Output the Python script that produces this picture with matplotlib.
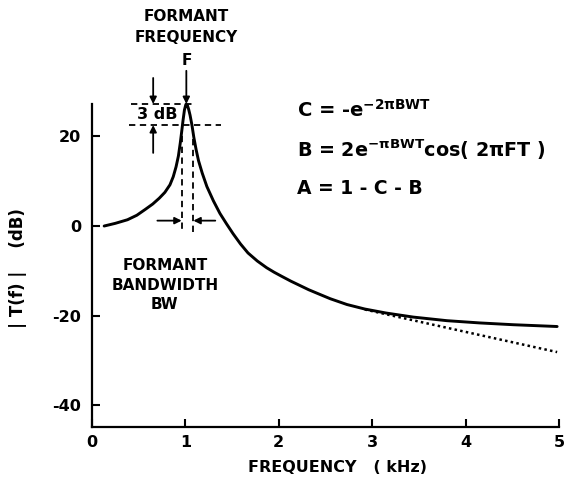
import matplotlib
matplotlib.use("Agg")
import matplotlib.pyplot as plt

plt.rcParams['font.family'] = ['DejaVu Sans']
plt.rcParams['font.weight'] = 'bold'
plt.rcParams['mathtext.fontset'] = 'custom'
plt.rcParams['mathtext.rm'] = 'DejaVu Sans:bold'
plt.rcParams['mathtext.it'] = 'DejaVu Sans:bold'
plt.rcParams['mathtext.bf'] = 'DejaVu Sans:bold'

# Data
freq_resp = [0.13, 0.25, 0.38, 0.48, 0.57, 0.65, 0.72, 0.78, 0.835, 0.87, 0.90,
             0.925, 0.945, 0.96, 0.975, 0.99, 1.005, 1.02, 1.035, 1.05, 1.07,
             1.09, 1.115, 1.14, 1.18, 1.23, 1.30, 1.37, 1.44, 1.51, 1.59, 1.67,
             1.77, 1.87, 1.95, 2.03, 2.13, 2.23, 2.32, 2.40, 2.55, 2.73, 2.92,
             3.15, 3.44, 3.80, 4.15, 4.51, 4.98]
db_resp = [0.0, 0.6, 1.4, 2.4, 3.7, 4.9, 6.2, 7.5, 9.2, 11.0, 13.2,
           15.6, 18.5, 21.0, 23.6, 25.9, 27.1, 27.0, 26.0, 24.7, 22.5,
           19.8, 17.0, 14.6, 11.8, 8.8, 5.6, 2.8, 0.5, -1.7, -4.0, -6.0,
           -7.8, -9.3, -10.3, -11.2, -12.3, -13.3, -14.2, -14.9, -16.2, -17.5, -18.5,
           -19.4, -20.3, -21.1, -21.6, -22.0, -22.4]
freq_asym = [2.92, 3.5, 4.0, 4.5, 4.98]
db_asym = [-18.6, -21.3, -23.6, -25.9, -28.1]

x_ticks = [0, 1, 2, 3, 4, 5]
y_ticks = [20, 0, -20, -40]

peak_f, peak_db = 1.01, 27.2
low3_db = 22.5
bw_lo, bw_hi = 0.96, 1.085

fig = plt.figure(figsize=(5.66, 4.82), dpi=100)
ax = fig.add_axes([92/566, 55/482, 467/566, 323/482])
ax.set_xlim(0, 5)
ax.set_ylim(-44.8, 27.2)

for s in ['top', 'right']:
    ax.spines[s].set_visible(False)
for s in ['left', 'bottom']:
    ax.spines[s].set_linewidth(1.6)

ax.set_xticks(x_ticks)
ax.set_xticklabels([str(v) for v in x_ticks])
ax.set_yticks(y_ticks)
ax.set_yticklabels([str(v) for v in y_ticks])
ax.tick_params(direction='in', length=6, width=1.5, labelsize=11.5, pad=6)
ax.tick_params(axis='y', pad=8)
for lab in ax.get_xticklabels() + ax.get_yticklabels():
    lab.set_fontweight('bold')

ax.plot(freq_resp, db_resp, color='black', lw=2.1, solid_joinstyle='round',
        solid_capstyle='round', clip_on=False)
ax.plot(freq_asym, db_asym, color='black', lw=1.8, linestyle=(0, (1, 1.3)),
        clip_on=False)

dash = (0, (3.5, 2.5))
# 3 dB dashed lines
ax.plot([0.42, 1.1], [peak_db, peak_db], color='black', lw=1.3, linestyle=dash, clip_on=False)
ax.plot([0.40, 1.38], [low3_db, low3_db], color='black', lw=1.3, linestyle=dash, clip_on=False)
# bandwidth verticals
ax.plot([bw_lo, bw_lo], [low3_db, -1.5], color='black', lw=1.3, linestyle=dash)
ax.plot([bw_hi, bw_hi], [19.5, -1.5], color='black', lw=1.3, linestyle=dash)

arrow = dict(arrowstyle='-|>', color='black', lw=1.3, mutation_scale=10, shrinkA=0, shrinkB=0)
# 3 dB arrows
ax.annotate('', xy=(0.655, peak_db), xytext=(0.655, 33), arrowprops=arrow, annotation_clip=False)
ax.annotate('', xy=(0.655, low3_db), xytext=(0.655, 16.3), arrowprops=arrow, annotation_clip=False)
ax.text(0.70, 24.9, '3 dB', ha='center', va='center', fontsize=11.5, fontweight='bold')
# formant frequency arrow
ax.annotate('', xy=(peak_f, peak_db), xytext=(peak_f, 34.6), arrowprops=arrow, annotation_clip=False)
ax.text(peak_f, 37.0, 'F', ha='center', va='center', fontsize=11, fontweight='bold')
ax.text(peak_f, 42.1, 'FREQUENCY', ha='center', va='center', fontsize=11, fontweight='bold')
ax.text(peak_f, 46.6, 'FORMANT', ha='center', va='center', fontsize=11, fontweight='bold')
# bandwidth arrows
ax.annotate('', xy=(bw_lo, 1.2), xytext=(0.70, 1.2), arrowprops=arrow)
ax.annotate('', xy=(bw_hi, 1.2), xytext=(1.32, 1.2), arrowprops=arrow)
ax.text(0.78, -8.7, 'FORMANT', ha='center', va='center', fontsize=11, fontweight='bold')
ax.text(0.78, -13.2, 'BANDWIDTH', ha='center', va='center', fontsize=11, fontweight='bold')
ax.text(0.78, -17.6, 'BW', ha='center', va='center', fontsize=11, fontweight='bold')

# equations
ax.text(2.2, 25.9, r'C = -e$^{-2\pi BWT}$', ha='left', va='center', fontsize=14)
ax.text(2.2, 17.0, r'B = 2e$^{-\pi BWT}$cos( 2$\pi$FT )', ha='left', va='center', fontsize=13.8)
ax.text(2.2, 8.4, 'A = 1 - C - B', ha='left', va='center', fontsize=13.5)

fig.text(18/566, 1 - 268/482, '| T(f) |    (dB)', rotation=90, ha='center', va='center',
         fontsize=12, fontweight='bold')
fig.text(337/566, 1 - 468/482, 'FREQUENCY   ( kHz)', ha='center', va='center',
         fontsize=11.5, fontweight='bold')

fig.savefig('out.png', dpi=100)
